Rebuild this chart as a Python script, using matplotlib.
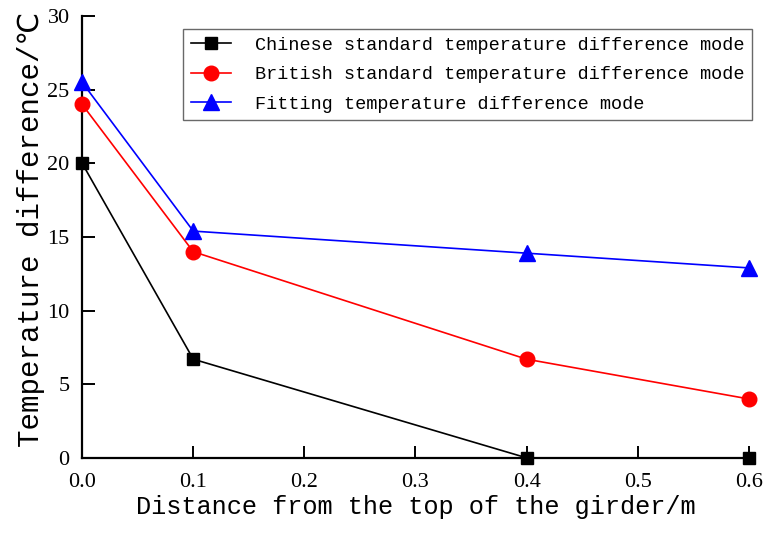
import numpy as np
import matplotlib.pyplot as plt

# data
x = [0.0, 0.1, 0.4, 0.6]
chinese = [20.0, 6.7, 0.0, 0.0]
british = [24.0, 14.0, 6.7, 4.0]
fitting = [25.5, 15.4, 13.9, 12.9]

xticks = [0.0, 0.1, 0.2, 0.3, 0.4, 0.5, 0.6]
yticks = [0, 5, 10, 15, 20, 25, 30]

mono = ['Liberation Mono', 'DejaVu Sans Mono', 'DejaVu Sans']
serif = ['Liberation Serif', 'DejaVu Serif']

fig = plt.figure(figsize=(7.68, 5.38), dpi=100)
ax = fig.add_axes([0.107, 0.149, 0.868, 0.821])

ax.plot(x, chinese, 'k-', marker='s', ms=9, lw=1.2, clip_on=False, zorder=5,
        label='Chinese standard temperature difference mode')
ax.plot(x, british, color='red', marker='o', ms=10.5, lw=1.2, clip_on=False, zorder=5,
        label='British standard temperature difference mode')
ax.plot(x, fitting, color='blue', marker='^', ms=11, lw=1.2, clip_on=False, zorder=5,
        label='Fitting temperature difference mode')

ax.set_xlim(0, 0.6)
ax.set_ylim(0, 30)
ax.set_xticks(xticks)
ax.set_yticks(yticks)
ax.set_xticklabels(['%.1f' % v for v in xticks], family=serif, fontsize=16)
ax.set_yticklabels([str(v) for v in yticks], family=serif, fontsize=16)

ax.spines['right'].set_visible(False)
ax.spines['top'].set_visible(False)
ax.spines['left'].set_linewidth(1.6)
ax.spines['bottom'].set_linewidth(1.6)
ax.tick_params(direction='in', length=9, width=1.4)
ax.tick_params(axis='x', pad=11)
ax.tick_params(axis='y', pad=9)

ax.set_xlabel('Distance from the top of the girder/m', family=mono, fontsize=18.2, labelpad=2)
ax.set_ylabel('Temperature difference/℃', family=mono, fontsize=21)
ax.yaxis.set_label_coords(-0.056, 0.518)

leg = ax.legend(loc='upper right', bbox_to_anchor=(1.005, 0.97), prop={'family': mono, 'size': 13.3},
                frameon=True, fancybox=False, edgecolor='#444444', handlelength=2.2,
                borderpad=0.4, labelspacing=0.68, handletextpad=1.3, borderaxespad=0)
leg.get_frame().set_linewidth(1.0)

plt.savefig('out.png', dpi=100)
